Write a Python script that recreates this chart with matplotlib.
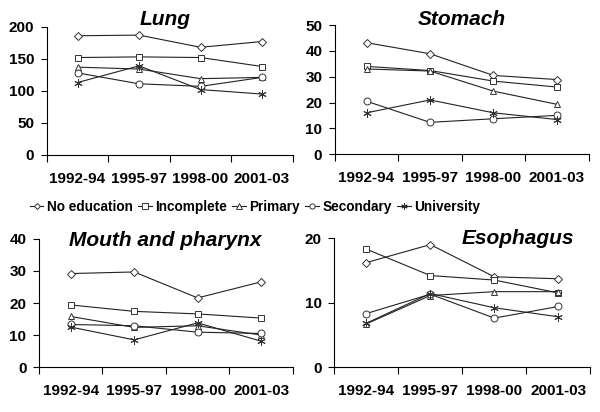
import numpy as np
import matplotlib
matplotlib.use("Agg")
import matplotlib.pyplot as plt

plt.rcParams['font.family'] = ['Liberation Sans', 'DejaVu Sans']

periods = ['1992-94', '1995-97', '1998-00', '2001-03']
groups = ['No education', 'Incomplete', 'Primary', 'Secondary', 'University']

# rates per site, one list per education group
lung = [
    [186, 187, 168, 177],
    [152, 153, 152, 138],
    [137, 134, 119, 121],
    [128, 111, 107, 121],
    [113, 139, 102, 95],
]
stomach = [
    [43.2, 38.9, 30.5, 28.9],
    [34.0, 32.4, 28.3, 26.0],
    [33.0, 32.2, 24.4, 19.3],
    [20.5, 12.3, 13.7, 15.0],
    [16.0, 21.0, 16.0, 13.4],
]
mouth = [
    [29.2, 29.7, 21.6, 26.6],
    [19.4, 17.4, 16.6, 15.3],
    [15.8, 12.4, 12.9, 10.0],
    [13.3, 12.9, 10.9, 10.5],
    [12.5, 8.5, 13.8, 8.1],
]
esophagus = [
    [16.2, 19.0, 14.0, 13.7],
    [18.3, 14.2, 13.5, 11.5],
    [6.7, 11.1, 11.7, 11.7],
    [8.3, 11.3, 7.6, 9.4],
    [6.8, 11.4, 9.2, 7.8],
]

markers = ['D', 's', '^', 'o', (6, 2, 0)]
msizes = [4, 5, 5, 5, 6]

panels = [
    # name, data, ymax, ystep, axes rect, title pos
    ('Lung', lung, 200, 50, [0.078, 0.624, 0.41, 0.311], (0.48, 1.055)),
    ('Stomach', stomach, 50, 10, [0.558, 0.626, 0.423, 0.313], (0.5, 1.04)),
    ('Mouth and pharynx', mouth, 40, 10, [0.065, 0.109, 0.423, 0.311], (0.496, 0.99)),
    ('Esophagus', esophagus, 20, 10, [0.557, 0.109, 0.427, 0.313], (0.715, 1.0)),
]

fig = plt.figure(figsize=(6, 4.12), dpi=100)
x = np.arange(len(periods)) + 0.5

for name, data, ymax, ystep, rect, tpos in panels:
    ax = fig.add_axes(rect)
    for i, g in enumerate(groups):
        ax.plot(x, data[i], color='#222222', lw=0.8, marker=markers[i],
                ms=msizes[i], mfc='white', mec='#333333', mew=0.7, label=g)
    ax.set_xlim(0, len(periods))
    ax.set_ylim(0, ymax)
    ax.set_yticks(np.arange(0, ymax + 1, ystep))
    ax.set_xticks(np.arange(len(periods) + 1))
    ax.set_xticklabels([])
    ax.set_xticks(x, minor=True)
    ax.set_xticklabels(periods, minor=True, fontsize=11, fontweight='bold')
    ax.tick_params(axis='x', which='major', length=5, width=0.8, direction='out')
    ax.tick_params(axis='x', which='minor', length=0, pad=12)
    ax.tick_params(axis='y', length=4, width=0.8, pad=5, labelsize=11)
    for lab in ax.get_yticklabels():
        lab.set_fontweight('bold')
    ax.spines['top'].set_visible(False)
    ax.spines['right'].set_visible(False)
    ax.spines['left'].set_linewidth(0.8)
    ax.spines['bottom'].set_linewidth(0.8)
    ax.text(tpos[0], tpos[1], name, transform=ax.transAxes, ha='center', va='center',
            fontsize=15, fontweight='bold', fontstyle='italic')

handles, labels = ax.get_legend_handles_labels()
fig.legend(handles, labels, loc='center', bbox_to_anchor=(0.425, 0.498), ncol=5,
           frameon=False, handlelength=1.0, handletextpad=0.25, columnspacing=0.4,
           prop={'weight': 'bold', 'size': 9.8}, markerscale=0.75)

fig.savefig('out.png', dpi=100)
